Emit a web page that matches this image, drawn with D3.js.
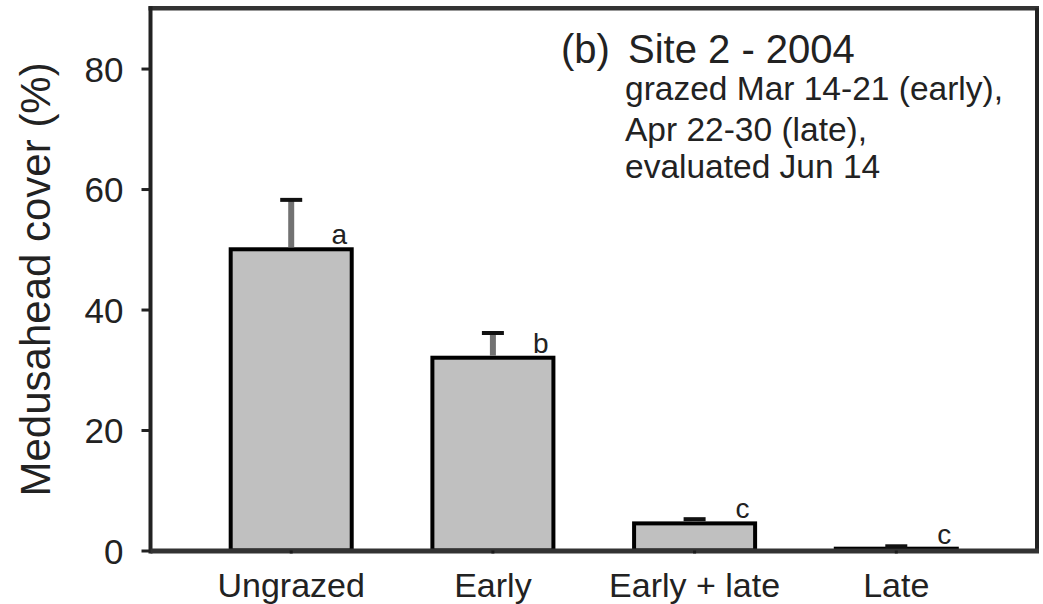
<!DOCTYPE html>
<html><head><meta charset="utf-8">
<script src="https://cdn.jsdelivr.net/npm/d3@7"></script>
<style>html,body{margin:0;padding:0;background:#fff;} svg{display:block;}</style>
</head><body>
<svg id="chart" width="1043" height="604"></svg>
<script>
const categories = ["Ungrazed", "Early", "Early + late", "Late"];
const means = [50, 32, 4.5, 0.3];
const upper = [58.2, 36.1, 5.2, 0.7];
const letters = ["a", "b", "c", "c"];
const yTicks = [0, 20, 40, 60, 80];
const titleMain = ["(b)", "Site 2 - 2004"];
const subtitle = ["grazed Mar 14-21 (early),", "Apr 22-30 (late),", "evaluated Jun 14"];
const yLabel = "Medusahead cover (%)";

const svg = d3.select("#chart");
const font = "'Liberation Sans', Arial, sans-serif";
const L = 150.5, R = 1037, T = 8.3, B = 550.5;

const x = d3.scaleBand().domain(categories).range([L, R]).paddingInner(0.4).paddingOuter(0.3976);
const y = d3.scaleLinear().domain([0, 90]).range([B, T]);

// bars
svg.append("g").selectAll("rect").data(categories).join("rect")
  .attr("x", d => x(d))
  .attr("width", x.bandwidth())
  .attr("y", (d, i) => y(means[i]))
  .attr("height", (d, i) => y(0) - y(means[i]))
  .attr("fill", "#c0c0c0")
  .attr("stroke", "#000")
  .attr("stroke-width", 4);

// error bars
const eb = svg.append("g");
eb.selectAll("line.stem").data(categories).join("line")
  .attr("class", "stem")
  .attr("x1", d => x(d) + x.bandwidth() / 2)
  .attr("x2", d => x(d) + x.bandwidth() / 2)
  .attr("y1", (d, i) => y(means[i]) - 2)
  .attr("y2", (d, i) => y(upper[i]))
  .attr("stroke", "#727272")
  .attr("stroke-width", 6);
eb.selectAll("line.cap").data(categories).join("line")
  .attr("class", "cap")
  .attr("x1", d => x(d) + x.bandwidth() / 2 - 11)
  .attr("x2", d => x(d) + x.bandwidth() / 2 + 11)
  .attr("y1", (d, i) => y(upper[i]))
  .attr("y2", (d, i) => y(upper[i]))
  .attr("stroke", "#111")
  .attr("stroke-width", 4);

// significance letters
svg.append("g").selectAll("text").data(categories).join("text")
  .attr("x", d => x(d) + x.bandwidth() - 12.5)
  .attr("y", (d, i) => y(means[i]) - 5)
  .attr("text-anchor", "middle")
  .attr("font-family", font)
  .attr("font-size", 28)
  .attr("fill", "#222")
  .text((d, i) => letters[i]);

// frame: top and right
svg.append("line").attr("x1", L - 2).attr("x2", R + 2).attr("y1", T).attr("y2", T)
  .attr("stroke", "#333").attr("stroke-width", 4.5);
svg.append("line").attr("x1", R).attr("x2", R).attr("y1", T).attr("y2", B)
  .attr("stroke", "#222").attr("stroke-width", 4);

// y axis
const yAxis = d3.axisLeft(y).tickValues(yTicks).tickSize(9).tickPadding(18).tickFormat(d3.format("d"));
const gy = svg.append("g").attr("transform", `translate(${L},0)`).call(yAxis);
gy.select(".domain").attr("stroke", "#222").attr("stroke-width", 4).attr("d", `M0,${T - 2}V${B + 3}`);
gy.selectAll(".tick line").attr("stroke", "#222").attr("stroke-width", 3);
gy.selectAll(".tick text").attr("font-family", font).attr("font-size", 35).attr("fill", "#222")
  .attr("dy", "0.36em");

// x axis
const xAxis = d3.axisBottom(x).tickSize(3).tickPadding(18);
const gx = svg.append("g").attr("transform", `translate(0,${B})`).call(xAxis);
gx.select(".domain").attr("stroke", "#333").attr("stroke-width", 5).attr("d", `M${L},0.5H${R + 2}`);
gx.selectAll(".tick line").attr("stroke", "#1a1a1a").attr("stroke-width", 3);
gx.selectAll(".tick text").attr("font-family", font).attr("font-size", 34).attr("fill", "#222")
  .attr("y", 0).attr("dy", 46);

// y label
svg.append("text")
  .attr("transform", `translate(50,${(T + B) / 2}) rotate(-90)`)
  .attr("text-anchor", "middle")
  .attr("font-family", font)
  .attr("font-size", 42)
  .attr("fill", "#222")
  .text(yLabel);

// title
svg.append("text").attr("x", 561).attr("y", 63).attr("font-family", font).attr("font-size", 40)
  .attr("fill", "#222").text(titleMain[0]);
svg.append("text").attr("x", 628).attr("y", 63).attr("font-family", font).attr("font-size", 40)
  .attr("fill", "#222").text(titleMain[1]);
const subY = [100, 141, 178];
svg.append("g").selectAll("text").data(subtitle).join("text")
  .attr("x", 625).attr("y", (d, i) => subY[i])
  .attr("font-family", font).attr("font-size", 33.5).attr("fill", "#222")
  .text(d => d);
</script>
</body></html>
